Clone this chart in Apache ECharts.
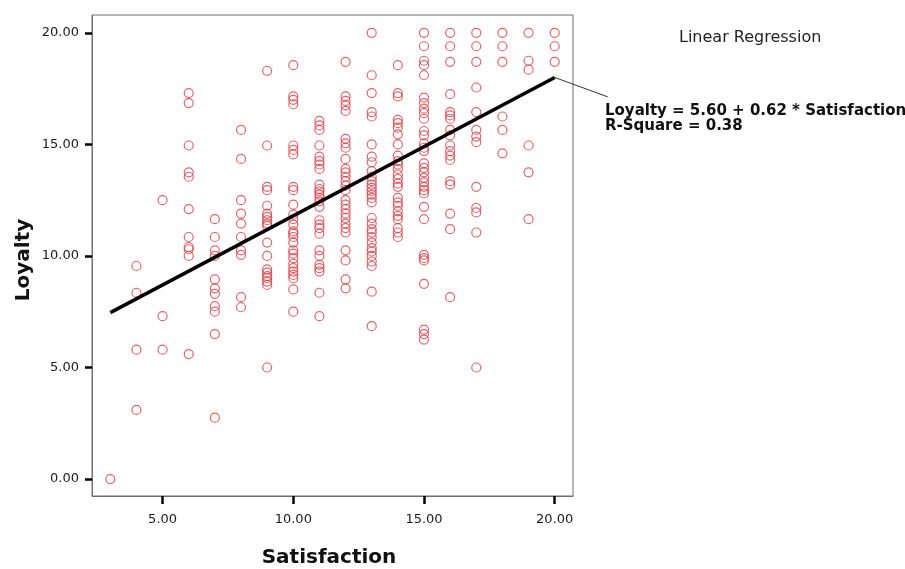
<!DOCTYPE html>
<html>
<head>
<meta charset="utf-8">
<script src="https://cdn.jsdelivr.net/npm/echarts@6/dist/echarts.min.js"></script>
<style>
  html, body { margin: 0; padding: 0; background: #fff; }
  #chart { width: 905px; height: 569px; }
</style>
</head>
<body>
<div id="chart"></div>
<script>
// ---- Data ----
const satisfactionLevels = [3, 4, 5, 6, 7, 8, 9, 10, 11, 12, 13, 14, 15, 16, 17, 18, 19, 20];
const loyalty3  = [0.0];
const loyalty4  = [9.55, 8.35, 5.8, 3.1];
const loyalty5  = [12.5, 7.3, 5.8];
const loyalty6  = [17.3, 16.85, 14.95, 13.75, 13.55, 12.1, 10.85, 10.4, 10.3, 10.0, 5.6];
const loyalty7  = [11.65, 10.85, 10.25, 10.0, 8.95, 8.55, 8.3, 7.75, 7.5, 6.5, 2.75];
const loyalty8  = [15.65, 14.35, 12.5, 11.9, 11.45, 10.85, 10.25, 10.05, 8.15, 7.7];
const loyalty9  = [18.3, 14.95, 13.1, 12.95, 12.25, 11.9, 11.75, 11.6, 11.45, 11.35, 10.6, 10.0, 9.4, 9.25, 9.1, 9.0, 8.85, 8.7, 5.0];
const loyalty10 = [18.55, 17.15, 17.0, 16.8, 14.95, 14.75, 14.55, 13.1, 12.95, 12.3, 11.85, 11.65, 11.4, 11.1, 11.0, 10.85, 10.6, 10.25, 10.1, 9.9, 9.65, 9.45, 9.3, 9.15, 9.0, 8.5, 7.5];
const loyalty11 = [16.05, 15.85, 15.65, 14.95, 14.45, 14.25, 14.1, 13.9, 13.2, 13.0, 12.9, 12.75, 12.6, 12.45, 12.2, 11.6, 11.4, 11.25, 11.0, 10.25, 10.0, 9.6, 9.45, 9.3, 8.35, 7.3];
const loyalty12 = [18.7, 17.15, 16.95, 16.75, 16.5, 15.25, 15.05, 14.85, 14.35, 13.9, 13.75, 13.55, 13.35, 13.15, 12.95, 12.5, 12.3, 12.1, 11.9, 11.7, 11.45, 11.25, 11.05, 10.25, 9.8, 8.95, 8.55];
const loyalty13 = [20.0, 18.1, 17.3, 16.45, 16.25, 15.0, 14.45, 14.2, 13.8, 13.55, 13.35, 13.2, 13.05, 12.9, 12.75, 12.6, 12.4, 11.7, 11.45, 11.2, 11.05, 10.85, 10.6, 10.35, 10.2, 10.0, 9.75, 9.55, 8.4, 6.85];
const loyalty14 = [18.55, 17.3, 17.15, 16.1, 15.95, 15.75, 15.45, 15.0, 14.5, 14.25, 14.1, 13.9, 13.65, 13.45, 13.25, 13.1, 12.6, 12.4, 12.25, 12.0, 11.8, 11.65, 11.25, 11.05, 10.85];
const loyalty15 = [20.0, 19.4, 18.75, 18.55, 18.1, 17.1, 16.85, 16.6, 16.4, 16.15, 15.6, 15.4, 15.05, 14.85, 14.7, 14.15, 13.95, 13.75, 13.5, 13.3, 13.1, 12.95, 12.8, 12.2, 11.65, 10.05, 9.9, 9.8, 8.75, 6.7, 6.5, 6.25];
const loyalty16 = [20.0, 19.4, 18.7, 17.25, 16.45, 16.3, 16.15, 15.65, 15.4, 14.95, 14.7, 14.5, 14.3, 13.35, 13.2, 11.9, 11.2, 8.15];
const loyalty17 = [20.0, 19.4, 18.7, 17.55, 16.45, 15.65, 15.35, 15.1, 13.1, 12.15, 11.95, 11.05, 5.0];
const loyalty18 = [20.0, 19.4, 18.7, 16.25, 15.65, 14.6];
const loyalty19 = [20.0, 18.75, 18.35, 14.95, 13.75, 11.65];
const loyalty20 = [20.0, 19.4, 18.7];

const loyaltyColumns = [loyalty3, loyalty4, loyalty5, loyalty6, loyalty7, loyalty8, loyalty9, loyalty10,
  loyalty11, loyalty12, loyalty13, loyalty14, loyalty15, loyalty16, loyalty17, loyalty18, loyalty19, loyalty20];

// Regression fit (from the annotation)
const intercept = 5.60;
const slope = 0.62;
const fitRange = [3, 20];
const leaderEnd = [22.03, 17.13];

const xTicks = [5, 10, 15, 20];
const yTicks = [0, 5, 10, 15, 20];

const xTitle = 'Satisfaction';
const yTitle = 'Loyalty';
const legendTitle = 'Linear Regression';
const equationText = 'Loyalty = 5.60 + 0.62 * Satisfaction';
const rSquareText = 'R-Square = 0.38';

// ---- Build ----
const points = [];
satisfactionLevels.forEach((s, i) => loyaltyColumns[i].forEach(v => points.push([s, v])));
const fitLine = fitRange.map(x => [x, intercept + slope * x]);

const chart = echarts.init(document.getElementById('chart'), null, { renderer: 'canvas' });
const fmt = v => Number(v).toFixed(2);
const frameColor = '#6f6f6f';

chart.setOption({
  animation: false,
  backgroundColor: '#ffffff',
  grid: {
    left: 92, right: 332, top: 15, bottom: 73, containLabel: false, outerBoundsMode: 'none',
    show: true, borderColor: frameColor, borderWidth: 1, backgroundColor: 'transparent'
  },
  xAxis: {
    type: 'value', min: 2.3, max: 20.7,
    axisLine: { show: true, onZero: false, lineStyle: { color: frameColor, width: 1 } },
    axisTick: { show: true, inside: false, length: 8, lineStyle: { color: '#000', width: 2.5 }, customValues: xTicks },
    axisLabel: { customValues: xTicks, formatter: fmt, margin: 17, fontFamily: 'DejaVu Sans', fontSize: 13, color: '#1a1a1a' },
    splitLine: { show: false }
  },
  yAxis: {
    type: 'value', min: -0.76, max: 20.8,
    axisLine: { show: true, onZero: false, lineStyle: { color: frameColor, width: 1 } },
    axisTick: { show: true, inside: false, length: 7, lineStyle: { color: '#000', width: 2.5 }, customValues: yTicks },
    axisLabel: { customValues: yTicks, formatter: fmt, margin: 13, fontFamily: 'DejaVu Sans', fontSize: 13, color: '#1a1a1a' },
    splitLine: { show: false }
  },
  series: [
    {
      type: 'scatter', data: points, symbol: 'circle', symbolSize: 9,
      itemStyle: { color: 'rgba(0,0,0,0)', borderColor: '#e03c44', borderWidth: 1.2 },
      emphasis: { disabled: true }, z: 2
    },
    {
      type: 'line', data: fitLine, symbol: 'none',
      lineStyle: { color: '#000', width: 3.5 }, z: 3, silent: true
    }
  ]
});

// annotation leader line from the end of the fit line to the equation label
const p1 = chart.convertToPixel({ gridIndex: 0 }, fitLine[1]);
const p2 = chart.convertToPixel({ gridIndex: 0 }, leaderEnd);

chart.setOption({
  graphic: [
    { type: 'line', shape: { x1: p1[0], y1: p1[1], x2: p2[0], y2: p2[1] }, style: { stroke: '#333', lineWidth: 1 }, z: 5, silent: true },
    { type: 'text', x: 24, y: 260, rotation: Math.PI / 2, style: { text: yTitle, font: 'bold 20px "DejaVu Sans"', fill: '#111', align: 'center', verticalAlign: 'middle' } },
    { type: 'text', x: 329, y: 558, style: { text: xTitle, font: 'bold 20px "DejaVu Sans"', fill: '#111', align: 'center', verticalAlign: 'middle' } },
    { type: 'text', left: 679, top: 30, style: { text: legendTitle, font: '16px "DejaVu Sans"', fill: '#222' } },
    { type: 'text', x: 605, y: 111, style: { text: equationText, font: 'bold 15px "DejaVu Sans"', fill: '#111', verticalAlign: 'middle' } },
    { type: 'text', x: 605, y: 126, style: { text: rSquareText, font: 'bold 15px "DejaVu Sans"', fill: '#111', verticalAlign: 'middle' } }
  ]
});
</script>
</body>
</html>
